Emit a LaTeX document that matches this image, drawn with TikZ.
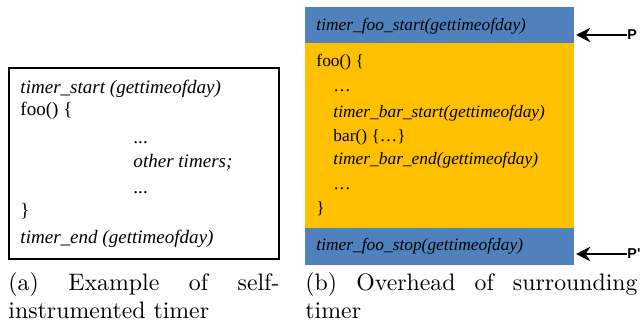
\documentclass[tikz,border=0pt]{standalone}
\usepackage{fontspec}
\newfontfamily\codefont{Liberation Serif}
\newfontfamily\tagfont{Liberation Sans}
\usetikzlibrary{arrows.meta}
\definecolor{hdrblue}{HTML}{4F81BD}
\definecolor{bodyorange}{HTML}{FFC000}
\tikzset{
  codeA/.style={anchor=base west, inner sep=0pt, font=\codefont\fontsize{8}{9}\selectfont},
  codeB/.style={anchor=base west, inner sep=0pt, font=\codefont\fontsize{7.3}{9}\selectfont},
  caption/.style={anchor=base west, inner sep=0pt, font=\fontsize{10}{12}\selectfont},
  ptag/.style={anchor=west, inner sep=0pt, font=\tagfont\bfseries\fontsize{6}{7}\selectfont},
  parrow/.style={line width=0.9pt, -{Stealth[length=6pt,width=6pt,inset=2pt]}}
}
\begin{document}
\begin{tikzpicture}[x=0.42pt,y=-0.42pt]
  \useasboundingbox (0,0) rectangle (640,329);
  % (a) self-instrumented timer
  \draw[line width=0.45pt] (9,68) rectangle (279,259);
  \node[codeA] (aStart) at (20,94) {\itshape timer\_start (gettimeofday)};
  \node[codeA] (aFoo) at (20,116) {foo() \{};
  \node[codeA] (aDots1) at (133,144) {...};
  \node[codeA] (aOther) at (133,168) {\itshape other timers;};
  \node[codeA] (aDots2) at (133,194) {...};
  \node[codeA] (aClose) at (20,217) {\}};
  \node[codeA] (aEnd) at (20,243) {\itshape timer\_end (gettimeofday)};
  % (b) surrounding timer
  \fill[hdrblue] (305,7) rectangle (574,43);
  \fill[bodyorange] (305,43) rectangle (574,228);
  \fill[hdrblue] (305,228) rectangle (574,265);
  \node[codeB] (bStart) at (316,31) {\itshape timer\_foo\_start(gettimeofday)};
  \node[codeB] (bFoo) at (316,67) {foo() \{};
  \node[codeB] (bDots1) at (333,92) {\dots};
  \node[codeB] (bBarStart) at (333,118) {\itshape timer\_bar\_start(gettimeofday)};
  \node[codeB] (bBar) at (333,142) {bar() \{\dots\}};
  \node[codeB] (bBarEnd) at (333,165) {\itshape timer\_bar\_end(gettimeofday)};
  \node[codeB] (bDots2) at (333,190) {\dots};
  \node[codeB] (bClose) at (316,213) {\}};
  \node[codeB] (bStop) at (316,250) {\itshape timer\_foo\_stop(gettimeofday)};
  % probes
  \coordinate (tipTop) at (576,35);
  \coordinate (tipBot) at (576,254);
  \node[ptag] (pTop) at (627,35) {P};
  \node[ptag] (pBot) at (627,254) {P'};
  \draw[parrow] (pTop) -- (tipTop);
  \draw[parrow] (pBot) -- (tipBot);
  % captions
  \node[caption, text width=113.8pt] (capA1) at (8,290) {(a)\hfill Example\hfill of\hfill self-};
  \node[caption] (capA2) at (8,318) {instrumented timer};
  \node[caption, text width=139.5pt] (capB1) at (305,290) {(b)\hfill Overhead\hfill of\hfill surrounding};
  \node[caption] (capB2) at (305,318) {timer};
\end{tikzpicture}
\end{document}
